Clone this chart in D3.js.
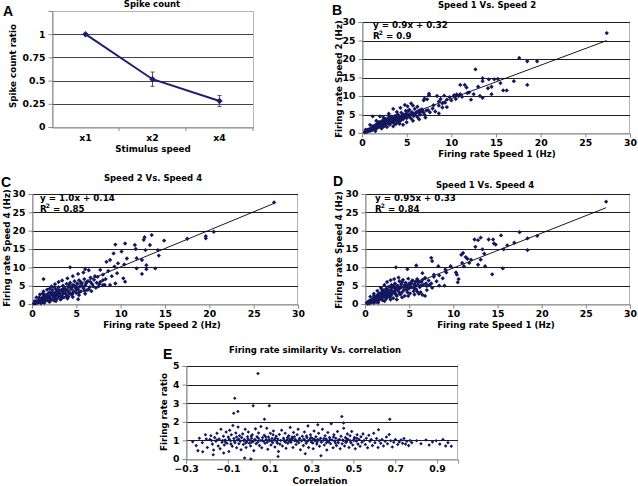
<!DOCTYPE html>
<html><head><meta charset="utf-8">
<script src="https://cdn.jsdelivr.net/npm/d3@7"></script>
<style>
body{margin:0;background:#fff}
svg{display:block}
text{font-family:"DejaVu Sans",Verdana,sans-serif;font-weight:bold;fill:#000}
.plabel{font-family:"Liberation Sans",Arial,sans-serif;font-size:14px}
</style>
</head><body><svg id="c" width="638" height="486"></svg>
<script>
// ---------- DATA ----------
const speedCats = ["x1","x2","x4"];
const spikeRatio = [1, 0.515, 0.28];
const spikeErr = [0, 0.077, 0.06];
const spikeTicks = [0, 0.25, 0.5, 0.75, 1];

const rateTicks = [0,5,10,15,20,25,30];

// Panel B: Speed 1 (x) vs Speed 2 (y)
const s1s2 = [[0.3,0.2],[0.4,0.5],[0.5,0.3],[0.6,0.8],[0.7,0.5],[0.8,1.0],[0.9,0.6],[1.0,1.2],[1.0,0.7],[1.1,1.5],[1.2,0.9],[1.2,1.8],[1.3,1.2],[1.4,2.0],[1.5,1.0],[1.5,1.5],[1.6,2.3],[1.7,1.4],[1.8,2.0],[1.8,2.7],[1.9,1.6],[2.0,2.4],[2.0,3.0],[2.1,1.8],[2.2,2.7],[2.3,2.1],[2.3,3.4],[2.4,2.5],[2.5,1.9],[2.5,3.0],[2.6,3.8],[2.7,2.4],[2.8,3.2],[2.9,2.6],[2.9,4.0],[3.0,3.0],[3.1,2.2],[3.2,3.6],[3.3,2.8],[3.3,4.4],[3.4,3.2],[3.5,3.9],[3.6,2.6],[3.7,4.6],[3.8,3.4],[3.9,4.1],[4.0,3.0],[4.0,5.0],[4.1,3.8],[4.2,4.5],[4.3,3.3],[4.4,5.5],[4.5,4.2],[4.6,3.7],[4.7,5.0],[4.8,4.4],[4.9,6.0],[5.0,4.0],[5.0,5.3],[5.2,4.7],[5.3,6.3],[5.4,5.0],[5.5,3.9],[5.6,5.6],[5.8,4.6],[5.9,6.5],[6.0,5.2],[6.2,4.3],[6.3,5.9],[6.5,5.0],[6.7,6.4],[6.9,5.5],[7.0,4.9],[7.2,6.1],[7.6,5.6],[7.9,6.6],[8.2,5.8],[8.6,7.4],[9.0,6.9],[9.3,8.2],
[0.5,0.6],[0.7,0.9],[0.9,1.0],[1.1,0.8],[1.3,1.6],[1.4,1.1],[1.6,1.3],[1.7,1.9],[1.9,2.2],[2.1,2.2],[2.2,2.0],[2.4,2.9],[2.6,2.8],[2.7,3.3],[2.8,2.7],[3.0,3.5],[3.1,2.8],[3.2,3.1],[3.4,3.7],[3.5,3.0],[3.6,3.5],[3.7,4.0],[3.9,3.4],[4.1,4.3],[4.2,3.7],[4.4,4.2],[4.5,4.8],[4.7,4.1],[4.9,4.6],[5.1,5.0],[5.3,4.4],[5.5,5.4],[5.7,5.0],[6.1,5.6],[6.4,5.4],[6.8,6.0],[0.4,0.9],[0.6,0.4],[0.8,0.7],[1.9,2.9],[2.3,1.6],[3.1,4.5],[3.8,2.4],[5.2,6.0],
[0.9,2.2],[1.2,4.5],[2.0,4.5],[1.6,3.3],[2.4,4.2],[3.0,5.2],[3.5,6.5],[3.9,5.7],[4.3,6.8],[4.8,7.6],[5.1,7.2],[5.5,8.0],[5.7,7.4],[6.2,7.1],
[1.5,0.5],[2.2,1.2],[2.8,1.6],[3.5,1.8],[4.2,2.5],[5.0,2.9],[5.7,3.3],[6.4,3.7],[7.1,4.2],[4.6,2.2],
[6.6,5.8],[7.4,6.2],[6.5,6.2],[6.9,8.8],[7.0,9.3],[7.3,9.1],[7.5,10.2],[7.5,10.6],[8.0,7.5],[8.4,10.0],[8.6,8.5],[8.6,5.3],[8.8,9.2],[9.0,8.0],[9.5,9.0],[9.5,7.0],[9.8,9.7],[10.3,10.2],[10.6,10.4],[10.8,10.0],[11.0,10.5],[11.2,9.8],[11.0,13.0],[11.5,13.0],[11.7,12.3],[12.0,11.0],[12.5,10.5],[13.0,12.5],[13.2,10.0],[13.5,9.5],[12.7,17.2],[13.5,14.8],[13.5,14.0],[14.1,12.1],[14.2,14.5],[14.5,12.5],[14.5,10.5],[14.8,14.5],[15.2,14.6],[15.5,13.5],[15.8,11.5],[16.2,11.5],[17.0,14.0],[17.6,20.3],[18.5,19.4],[18.5,13.0],[19.6,19.4],[27.4,27.0],[10.0,8.8],[11.8,10.8],[12.2,9.0],[9.2,10.1],[10.5,9.2]];
const fitB = {slope:0.9, icpt:0.32, x0:0.3, x1:27.4};

// Panel C: Speed 2 (x) vs Speed 4 (y)
const s2s4 = [[0.2,0.1],[0.3,0.4],[0.4,0.2],[0.5,0.7],[0.6,0.3],[0.7,1.0],[0.8,0.5],[0.9,1.3],[1.0,0.8],[1.0,0.2],[1.1,1.6],[1.2,1.1],[1.2,0.5],[1.3,2.0],[1.4,1.4],[1.5,0.9],[1.5,2.4],[1.6,1.7],[1.7,1.1],[1.8,2.8],[1.8,2.0],[1.9,0.7],[2.0,1.5],[2.0,3.2],[2.1,2.3],[2.2,1.2],[2.3,2.7],[2.3,3.8],[2.4,1.8],[2.5,3.0],[2.5,0.9],[2.6,2.2],[2.7,4.0],[2.8,2.6],[2.8,1.4],[2.9,3.4],[3.0,2.0],[3.0,4.6],[3.1,3.0],[3.2,1.2],[3.3,3.8],[3.4,2.5],[3.5,5.0],[3.5,3.3],[3.6,1.8],[3.7,4.2],[3.8,2.8],[3.9,5.5],[4.0,3.6],[4.0,2.2],[4.1,4.6],[4.2,3.0],[4.3,5.8],[4.4,4.0],[4.5,2.6],[4.6,5.2],[4.7,3.5],[4.8,6.2],[4.9,4.4],[5.0,3.0],[5.1,5.6],[5.2,4.0],[5.3,6.5],[5.4,4.8],[5.5,3.4],[5.6,5.5],[5.8,4.3],[5.9,6.8],[6.0,5.0],[6.2,3.8],[6.3,6.2],[6.5,4.6],[6.6,7.2],[6.8,5.4],[7.0,6.6],[7.2,4.4],[7.4,7.4],[7.7,6.0],[8.0,8.0],[8.3,6.8],[8.6,9.0],[9.0,7.6],[9.3,10.2],[9.6,8.4],
[0.3,0.8],[0.5,0.4],[0.7,0.6],[0.9,0.9],[1.1,0.6],[1.3,1.2],[1.4,2.4],[1.6,1.4],[1.7,2.3],[1.9,1.8],[2.1,1.0],[2.2,3.0],[2.4,2.4],[2.6,1.6],[2.7,3.3],[2.9,2.4],[3.0,3.9],[3.2,2.7],[3.3,1.9],[3.5,4.2],[3.6,3.0],[3.8,3.8],[3.9,2.1],[4.1,3.4],[4.2,5.2],[4.3,2.8],[4.5,4.4],[4.6,3.0],[4.8,5.0],[5.0,3.8],[5.1,4.6],[5.3,3.2],[5.5,6.0],[5.7,4.8],[5.9,3.6],[6.1,5.6],[6.4,4.0],[6.6,6.0],[6.9,4.8],[7.1,7.6],[7.6,5.4],[0.8,1.8],[1.2,2.8],[2.0,4.2],[2.5,4.6],
[0.5,1.8],[0.9,2.6],[1.3,3.4],[1.7,3.9],[2.2,4.8],[2.6,5.4],[3.0,6.0],[3.4,6.4],[4.0,7.0],[4.6,7.6],[5.2,8.2],[5.8,8.6],[6.4,9.2],
[1.4,0.3],[2.0,0.6],[2.7,0.8],[3.3,1.4],[4.0,1.5],[4.6,1.9],[5.3,2.4],[6.0,2.8],[6.7,3.5],[7.5,4.8],[8.2,5.2],
[27.3,27.7],[20.5,19.7],[19.6,18.5],[19.6,17.9],[17.5,17.8],[13.5,18.8],[12.7,18.2],[12.6,17.5],[14.9,17.3],[9.4,16.2],[10.5,16.5],[11.6,16.1],[11.7,15.0],[13.3,16.1],[12.8,14.7],[14.2,14.7],[14.3,13.2],[9.2,13.8],[10.1,14.3],[10.7,12.4],[11.8,12.5],[12.4,12.0],[8.8,12.0],[8.4,11.5],[9.7,11.1],[10.4,10.8],[11.8,9.7],[12.4,8.2],[12.9,10.6],[13.9,9.7],[12.9,9.5],[4.3,10.0],[7.7,9.3],[6.0,9.5],[10.3,7.0],[10.5,6.1],[9.4,5.6],[8.0,5.2],[7.3,5.8],[1.3,6.8],[5.2,1.3],[4.1,2.0],[8.8,5.2],[8.0,6.5]];
const fitC = {slope:1.0, icpt:0.14, x0:0.2, x1:27.3};

// Panel D: Speed 1 (x) vs Speed 4 (y)
const s1s4 = [[0.2,0.3],[0.3,0.1],[0.4,0.6],[0.5,0.2],[0.6,0.9],[0.7,0.4],[0.8,1.2],[0.9,0.7],[1.0,1.6],[1.0,0.3],[1.1,1.0],[1.2,2.0],[1.3,1.4],[1.3,0.6],[1.4,2.4],[1.5,1.8],[1.6,1.1],[1.6,2.9],[1.7,2.2],[1.8,1.5],[1.9,3.2],[2.0,2.5],[2.0,1.0],[2.1,3.7],[2.2,2.0],[2.3,2.9],[2.4,4.2],[2.4,1.4],[2.5,3.4],[2.6,2.4],[2.7,4.7],[2.8,3.1],[2.8,1.8],[2.9,3.9],[3.0,5.2],[3.0,2.6],[3.1,3.5],[3.2,1.6],[3.3,4.4],[3.4,5.6],[3.4,3.0],[3.5,4.0],[3.6,2.2],[3.7,5.0],[3.8,3.5],[3.9,6.2],[4.0,4.4],[4.0,2.6],[4.1,5.4],[4.2,3.2],[4.3,6.6],[4.4,4.6],[4.5,2.2],[4.6,5.8],[4.7,3.8],[4.8,5.0],[4.9,6.9],[5.0,4.2],[5.1,2.9],[5.2,5.6],[5.3,4.6],[5.4,6.4],[5.5,3.5],[5.6,5.2],[5.7,6.0],[5.8,4.0],[5.9,6.8],[6.0,5.4],[6.1,2.8],[6.2,4.6],[6.4,6.0],[6.6,5.2],[6.8,7.0],[7.0,4.9],[7.2,6.4],[7.5,5.6],[7.8,7.4],[8.1,6.2],[8.4,7.8],[8.8,7.0],[9.2,8.6],
[0.3,0.5],[0.5,0.9],[0.7,0.8],[0.9,1.3],[1.1,0.6],[1.2,1.5],[1.4,1.0],[1.5,2.6],[1.7,1.5],[1.8,2.8],[2.0,1.8],[2.1,2.9],[2.3,2.2],[2.3,3.6],[2.5,1.9],[2.6,3.8],[2.7,2.8],[2.9,2.2],[3.0,4.4],[3.1,3.0],[3.2,5.0],[3.4,3.6],[3.5,2.5],[3.6,4.8],[3.8,4.2],[3.9,2.9],[4.1,4.8],[4.2,6.0],[4.4,3.8],[4.5,5.2],[4.7,4.4],[4.8,3.2],[5.0,5.6],[5.1,4.8],[5.3,6.2],[5.5,4.4],[5.7,5.0],[5.9,3.4],[6.0,6.4],[6.3,5.0],[6.5,6.6],[6.9,5.6],[7.3,5.2],[1.0,2.2],[1.9,4.0],
[0.6,2.0],[1.0,2.8],[1.4,3.6],[1.8,4.4],[2.2,5.2],[2.5,6.0],[2.9,6.5],[3.3,6.8],[3.8,7.2],
[1.5,0.4],[2.2,0.8],[2.9,1.2],[3.6,1.2],[4.2,1.8],[4.9,2.2],[5.6,2.6],[6.3,3.2],[7.0,3.8],[7.6,4.4],[8.4,5.0],
[27.3,27.9],[19.5,18.6],[18.4,17.9],[18.4,14.7],[17.5,19.6],[16.9,16.7],[15.4,18.7],[16.1,16.0],[15.7,14.9],[15.6,9.7],[14.4,8.1],[14.0,17.6],[14.5,17.6],[14.6,16.5],[14.8,16.2],[13.1,18.1],[12.8,17.4],[12.5,15.6],[13.3,14.9],[13.5,13.7],[13.1,12.1],[12.8,10.7],[13.6,10.3],[12.4,17.6],[11.1,13.9],[10.9,13.4],[11.4,12.8],[11.6,12.3],[12.0,12.1],[11.8,11.2],[11.0,11.2],[11.2,10.3],[10.3,8.6],[10.4,8.0],[10.6,6.8],[10.5,5.9],[7.5,12.6],[7.6,11.7],[3.5,10.0],[8.3,10.3],[9.1,9.4],[9.7,10.3],[7.8,8.0],[6.5,8.4],[5.8,10.5],[4.8,9.5],[6.8,7.1],[6.5,2.5],[6.8,2.2],[9.0,5.0],[5.6,4.3],[6.1,6.1]];
const fitD = {slope:0.95, icpt:0.33, x0:0.2, x1:27.3};

// Panel E: correlation (x) vs firing rate ratio (y)
const corrTicks = [-0.3,-0.1,0.1,0.3,0.5,0.7,0.9];
const ratioTicks = [0,1,2,3,4,5];
const corrRatio = [[-0.268,0.93],[-0.251,0.72],[-0.243,0.45],[-0.236,1.12],[-0.222,0.88],[-0.207,1.3],[-0.198,0.62],[-0.186,1.05],[-0.181,1.25],[-0.174,0.8],[-0.168,0.48],[-0.163,1.15],[-0.157,0.95],[-0.152,1.38],[-0.146,0.7],
[-0.141,1.08],[-0.137,0.55],[-0.133,1.6],[-0.128,0.9],[-0.121,1.22],[-0.117,0.75],[-0.113,1.02],[-0.108,1.45],[-0.104,0.85],[-0.098,1.18],[-0.095,0.4],[-0.091,1.55],[-0.087,0.98],[-0.083,1.3],[-0.079,0.68],[-0.076,1.8],[-0.071,1.1],[-0.066,0.88],[-0.062,1.4],[-0.058,0.6],[-0.055,1.02],[-0.051,1.72],[-0.047,0.82],[-0.044,1.25],[-0.041,0.95],[-0.037,0.5],[-0.034,1.15],
[-0.125,1.0],[-0.112,0.92],[-0.094,1.08],[-0.069,0.97],[-0.048,1.06],[-0.152,1.02],[-0.178,0.99],[-0.203,1.07],[-0.085,0.8],[-0.058,1.18],
[-0.029,1.35],[-0.026,0.78],[-0.021,1.05],[-0.017,1.6],[-0.013,0.62],[-0.009,0.92],[-0.006,1.2],[-0.002,1.45],[0.003,0.85],[0.006,1.0],[0.009,0.7],[0.013,1.12],[0.017,1.3],[0.021,0.95],[0.024,0.45],[0.028,1.05],[0.032,1.62],[0.035,0.82],[0.039,1.2],[0.043,0.9],[0.047,1.4],[0.051,0.72],[0.054,1.0],
[-0.024,0.98],[-0.004,1.08],[0.015,0.9],[0.031,1.02],[0.046,1.12],[0.012,1.24],[-0.015,0.86],
[0.058,1.75],[0.062,0.6],[0.066,1.15],[0.071,0.95],[0.074,1.28],[0.078,0.85],[0.083,1.05],[0.086,1.65],[0.091,0.52],[0.094,1.18],[0.098,0.98],[0.103,1.38],[0.106,0.75],[0.111,1.1],[0.114,0.88],[0.118,1.5],[0.122,1.02],[0.125,0.65],[0.131,1.22],[0.134,0.92],[0.139,1.08],[0.142,0.4],[0.146,1.32],[0.149,0.8],[0.153,1.0],
[0.064,1.0],[0.081,1.2],[0.097,1.05],[0.109,0.97],[0.127,1.12],[0.137,0.85],[0.088,0.9],[0.116,1.3],
[0.157,1.55],[0.161,0.7],[0.166,1.12],[0.171,0.95],[0.174,1.38],[0.178,0.58],[0.183,1.02],[0.187,0.85],[0.191,1.25],[0.195,1.08],[0.198,1.7],[0.202,0.9],[0.207,1.18],[0.211,0.62],[0.214,1.42],[0.219,0.98],[0.223,1.05],[0.226,0.78],[0.231,1.3],[0.236,1.6],[0.239,0.88],[0.243,1.12],[0.247,0.5],[0.252,0.98],
[0.168,1.02],[0.185,1.15],[0.201,1.0],[0.209,1.1],[0.218,1.2],[0.229,0.95],[0.241,1.04],[0.176,0.9],[0.194,0.96],[0.205,1.06],
[0.256,1.22],[0.261,0.72],[0.266,1.45],[0.269,1.0],[0.274,0.85],[0.278,1.15],[0.283,1.78],[0.286,0.62],[0.291,1.05],[0.295,1.3],[0.299,0.92],[0.304,1.1],[0.308,0.55],[0.312,1.5],[0.316,0.98],[0.321,1.2],[0.325,0.8],[0.329,1.05],[0.334,1.38],[0.338,0.68],[0.343,1.12],[0.347,0.9],
[0.263,1.08],[0.281,0.96],[0.297,1.16],[0.314,1.06],[0.327,0.92],[0.341,1.01],[0.276,1.24],[0.306,0.86],
[0.352,1.6],[0.356,1.0],[0.361,0.75],[0.365,1.25],[0.369,1.08],[0.373,0.48],[0.378,1.42],[0.382,0.92],[0.386,1.15],[0.391,0.82],[0.394,1.9],[0.398,1.02],[0.403,0.6],[0.407,1.3],[0.411,0.95],[0.416,1.12],[0.419,0.72],[0.424,1.48],[0.428,0.88],[0.433,1.05],[0.437,0.55],
[0.359,1.1],[0.376,0.98],[0.389,1.04],[0.405,1.18],[0.414,0.86],[0.426,1.0],[0.371,0.88],
[0.441,1.22],[0.446,0.82],[0.449,1.02],[0.454,1.65],[0.458,0.7],[0.462,1.15],[0.467,0.92],[0.471,1.35],[0.475,1.05],[0.479,0.62],[0.484,1.25],[0.488,0.88],[0.492,1.48],[0.497,0.75],[0.501,1.0],[0.505,1.15],[0.509,0.55],[0.514,0.95],[0.518,1.3],[0.522,0.8],
[0.452,1.0],[0.469,1.08],[0.486,0.98],[0.503,1.06],[0.516,1.12],[0.463,0.9],
[0.527,1.05],[0.532,0.68],[0.536,1.2],[0.541,0.9],[0.546,1.35],[0.551,1.0],[0.557,0.78],[0.562,1.12],[0.568,0.6],[0.574,1.28],[0.579,0.95],[0.585,1.05],[0.591,0.72],[0.597,1.38],[0.603,0.88],
[0.611,1.1],[0.618,0.62],[0.624,0.98],[0.631,0.85],[0.637,1.05],[0.644,0.7],[0.652,0.95],[0.658,1.18],[0.663,0.82],[0.671,1.32],[0.678,0.98],[0.686,0.65],[0.693,0.9],[0.701,1.05],[0.712,0.78],[0.719,0.92],
[0.728,1.02],[0.735,0.85],[0.742,1.1],[0.749,0.8],[0.756,0.95],[0.764,0.72],[0.771,1.0],[0.779,0.88],
[0.802,0.98],[0.823,0.82],[0.847,1.02],[0.862,0.75],[0.878,0.92],[0.896,0.98],[0.913,0.8],[0.928,1.05],[0.941,0.7],[0.952,0.88],[0.968,0.68],
[0.044,4.6],[-0.067,3.27],[-0.072,2.46],[-0.052,2.55],[0.021,2.86],[0.098,2.86],[0.075,2.14],[0.445,2.29],[0.674,2.14],[0.453,1.93],[0.33,1.84],[0.62,1.57],[-0.02,0.05],[0.01,0.0],[0.14,0.14],[0.27,0.28],[0.345,0.18],[-0.17,0.23],[-0.22,0.39],[-0.12,0.32]];

// ---------- DRAWING ----------
const svg = d3.select("#c");
const NAVY = "#15175e";
const BORDER = "#b4b4b4";
const GRID = "#1e1e1e";
const AXIS = "#8a8a8a";
const FS = 9.3;
const FT = 8.7;

function styleAxis(sel){
  sel.select(".domain").attr("stroke", AXIS);
  sel.selectAll(".tick line").attr("stroke", AXIS);
  sel.selectAll(".tick text").attr("font-size", FS).attr("font-family", '"DejaVu Sans",Verdana,sans-serif').attr("font-weight","bold").attr("fill","#000");
}

function addText(x, y, str, opts={}){
  const t = svg.append("text").attr("x", x).attr("y", y).text(str)
    .attr("font-size", opts.fs || FT).attr("text-anchor", opts.anchor || "middle");
  if(opts.cls) t.attr("class", opts.cls);
  return t;
}
function addVText(cx, cy, str){
  svg.append("text").attr("transform", `translate(${cx},${cy}) rotate(-90)`)
    .attr("text-anchor","middle").attr("dominant-baseline","central")
    .attr("font-size", FT).text(str);
}
function addR2(x, y, val){
  const t = svg.append("text").attr("x", x).attr("y", y).attr("font-size", FT);
  t.append("tspan").text("R");
  t.append("tspan").attr("font-size", 6).attr("dy", -4).attr("dx", -1).text("2");
  t.append("tspan").attr("dy", 4).text(" = " + val);
}

function scatter(o){
  const x = d3.scaleLinear().domain(o.xd).range([o.l, o.r]);
  const y = d3.scaleLinear().domain(o.yd).range([o.b, o.t]);
  const g = svg.append("g");
  g.append("rect").attr("x", o.l+0.5).attr("y", o.t+0.5).attr("width", o.r-o.l-1).attr("height", o.b-o.t)
    .attr("fill","none").attr("stroke", BORDER);
  g.selectAll("line.grid").data(o.yTicks.filter(v => v > o.yd[0])).join("line")
    .attr("x1", o.l).attr("x2", o.r)
    .attr("y1", d => Math.round(y(d))+0.5).attr("y2", d => Math.round(y(d))+0.5)
    .attr("stroke", GRID).attr("stroke-width", 1);
  const ya = g.append("g").attr("transform", `translate(${o.l+0.5},0)`)
    .call(d3.axisLeft(y).tickValues(o.yTicks).tickSize(4).tickPadding(3).tickFormat(o.yFmt || d3.format("d")));
  styleAxis(ya);
  const xa = g.append("g").attr("transform", `translate(0,${o.b+0.5})`)
    .call(d3.axisBottom(x).tickValues(o.xTicks).tickSize(4).tickPadding(2).tickFormat(o.xFmt || d3.format("d")));
  styleAxis(xa);
  if(o.fit){
    g.append("line")
      .attr("x1", x(o.fit.x0)).attr("y1", y(o.fit.slope*o.fit.x0 + o.fit.icpt))
      .attr("x2", x(o.fit.x1)).attr("y2", y(o.fit.slope*o.fit.x1 + o.fit.icpt))
      .attr("stroke","#000").attr("stroke-width",0.9);
  }
  const sym = d3.symbol().type(d3.symbolDiamond2).size(o.msize || 12);
  g.selectAll("path.pt").data(o.data).join("path")
    .attr("transform", d => `translate(${x(d[0])},${y(d[1])})`)
    .attr("d", sym).attr("fill", NAVY);
}

// ---- Panel A ----
{
  const l = 52, r = 253, t = 11, b = 127;
  const x = d3.scaleBand().domain(speedCats).range([l, r]);
  const y = d3.scaleLinear().domain([0, 1.25]).range([b, t]);
  svg.append("rect").attr("x", l+0.5).attr("y", t+0.5).attr("width", r-l).attr("height", b-t)
    .attr("fill","none").attr("stroke", BORDER);
  svg.selectAll("line.ga").data(spikeTicks.filter(v => v > 0)).join("line")
    .attr("x1", l).attr("x2", r)
    .attr("y1", d => Math.round(y(d))+0.5).attr("y2", d => Math.round(y(d))+0.5)
    .attr("stroke", "#444");
  const ya = svg.append("g").attr("transform", `translate(${l+0.5},0)`)
    .call(d3.axisLeft(y).tickValues(spikeTicks).tickSize(4).tickPadding(3).tickFormat(d => String(d)));
  styleAxis(ya);
  const xa = svg.append("g").attr("transform", `translate(0,${b+0.5})`)
    .call(d3.axisBottom(x).tickSize(0).tickPadding(7));
  styleAxis(xa);
  svg.selectAll("line.ct").data(speedCats.slice(1).concat(["_end"])).join("line")
    .attr("x1", (d,i) => i < 2 ? x(d) : r).attr("x2", (d,i) => i < 2 ? x(d) : r)
    .attr("y1", b).attr("y2", b+4).attr("stroke", AXIS);
  const cx = d => x(d) + x.bandwidth()/2;
  const pts = speedCats.map((c,i) => ({c, v: spikeRatio[i], e: spikeErr[i]}));
  svg.append("path").datum(pts)
    .attr("d", d3.line().x(d => cx(d.c)).y(d => y(d.v)))
    .attr("fill","none").attr("stroke", "#1c1f72").attr("stroke-width", 2);
  const eb = svg.selectAll("g.eb").data(pts.filter(d => d.e > 0)).join("g").attr("stroke","#555").attr("stroke-width",1);
  eb.append("line").attr("x1", d => cx(d.c)).attr("x2", d => cx(d.c)).attr("y1", d => y(d.v+d.e)).attr("y2", d => y(d.v-d.e));
  eb.append("line").attr("x1", d => cx(d.c)-2).attr("x2", d => cx(d.c)+2).attr("y1", d => y(d.v+d.e)).attr("y2", d => y(d.v+d.e));
  eb.append("line").attr("x1", d => cx(d.c)-2).attr("x2", d => cx(d.c)+2).attr("y1", d => y(d.v-d.e)).attr("y2", d => y(d.v-d.e));
  svg.selectAll("path.mk").data(pts).join("path")
    .attr("transform", d => `translate(${cx(d.c)},${y(d.v)})`)
    .attr("d", d3.symbol().type(d3.symbolDiamond2).size(26)).attr("fill", "#1c1f72");
  addText(152, 7, "Spike count", {fs: 8.5});
  addVText(13, 66, "Spike count ratio");
  addText(153, 152, "Stimulus speed");
  addText(3, 16, "A", {anchor:"start", cls:"plabel"});
}

// ---- Panel B ----
scatter({l:362, r:630, t:22, b:133, xd:[0,30], yd:[0,30], xTicks:rateTicks, yTicks:rateTicks, data:s1s2, fit:fitB});
addText(487, 8, "Speed 1 Vs. Speed 2", {fs: 8.5});
addVText(339, 79, "Firing rate Speed 2 (Hz)");
addText(497, 157, "Firing rate Speed 1 (Hz)");
addText(332, 15, "B", {anchor:"start", cls:"plabel"});
addText(373, 28, "y = 0.9x + 0.32", {anchor:"start"});
addR2(373, 39, "0.9");

// ---- Panel C ----
scatter({l:32, r:298, t:194, b:304, xd:[0,30], yd:[0,30], xTicks:rateTicks, yTicks:rateTicks, data:s2s4, fit:fitC});
addText(153, 181, "Speed 2 Vs. Speed 4", {fs: 8.5});
addVText(7, 248, "Firing rate Speed 4 (Hz)");
addText(162, 328, "Firing rate Speed 2 (Hz)");
addText(1, 187, "C", {anchor:"start", cls:"plabel"});
addText(40, 201, "y = 1.0x + 0.14", {anchor:"start"});
addR2(40, 212, "0.85");

// ---- Panel D ----
scatter({l:365, r:630, t:194, b:304, xd:[0,30], yd:[0,30], xTicks:rateTicks, yTicks:rateTicks, data:s1s4, fit:fitD});
addText(485, 188, "Speed 1 Vs. Speed 4", {fs: 8.5});
addVText(339, 250, "Firing rate Speed 4 (Hz)");
addText(496, 328, "Firing rate Speed 1 (Hz)");
addText(333, 186, "D", {anchor:"start", cls:"plabel"});
addText(375, 201, "y = 0.95x + 0.33", {anchor:"start"});
addR2(375, 212, "0.84");

// ---- Panel E ----
scatter({l:186, r:458, t:366, b:459, xd:[-0.3,1.0], yd:[0,5], xTicks:corrTicks, yTicks:ratioTicks, data:corrRatio,
  xFmt: d3.format(".1f"), msize: 8});
addText(315, 353, "Firing rate similarity Vs. correlation", {fs: 8.5});
addVText(164, 412, "Firing rate ratio");
addText(320, 484, "Correlation");
addText(163, 359, "E", {anchor:"start", cls:"plabel"});
</script></body></html>
